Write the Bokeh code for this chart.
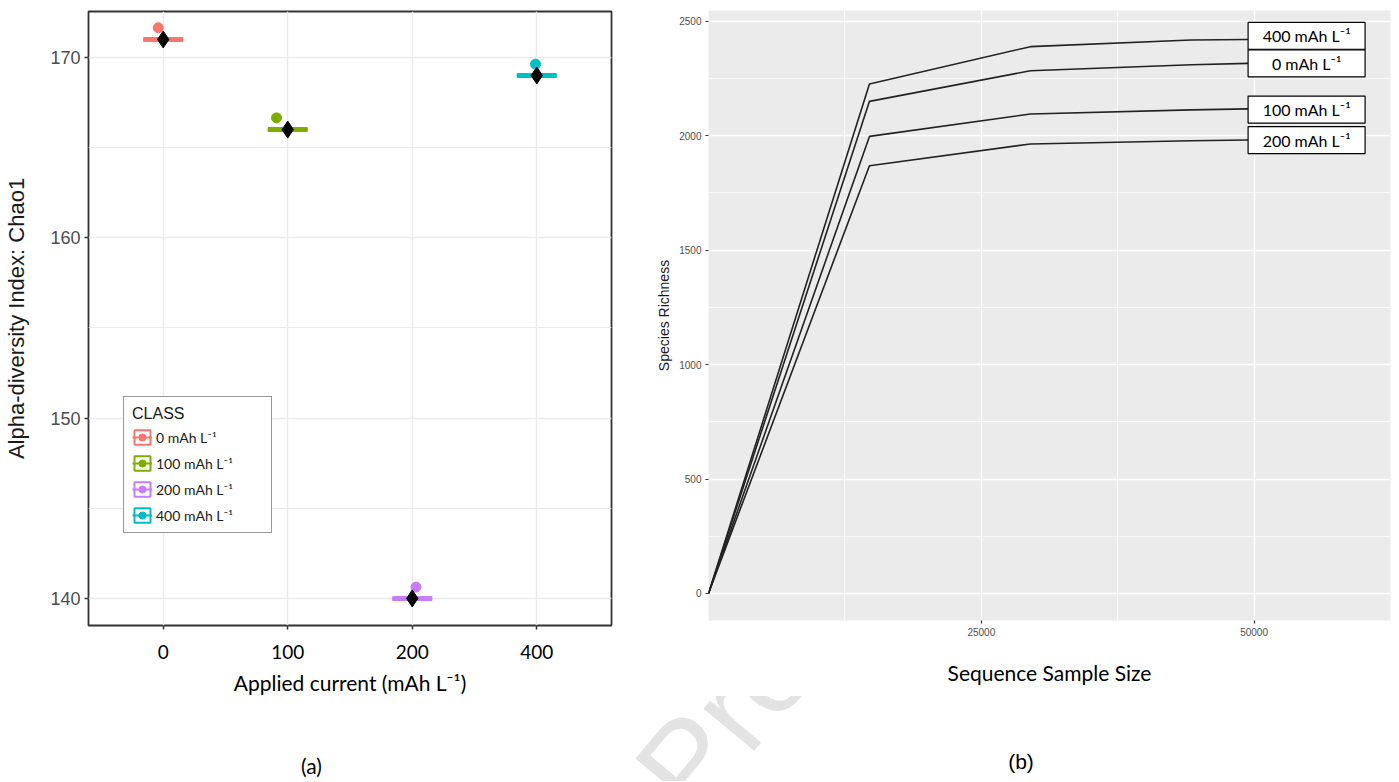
import math
from bokeh.plotting import figure
from bokeh.models import Range1d, FixedTicker, Legend, LegendItem, Label, ColumnDataSource, BasicTickFormatter, Div
from bokeh.layouts import row, column
from bokeh.core.properties import value
from bokeh.embed import file_html
from bokeh.resources import INLINE

# ---------------- data: panel (a) ----------------
classes = ["0", "100", "200", "400"]
class_labels = ["0 mAh L\u207b\u00b9", "100 mAh L\u207b\u00b9", "200 mAh L\u207b\u00b9", "400 mAh L\u207b\u00b9"]
class_colors = ["#F8766D", "#7CAE00", "#C77CFF", "#00BFC4"]
chao1_sample = [171.65, 166.65, 140.63, 169.63]
chao1_median = [171.0, 166.0, 140.0, 169.0]
chao1_mean = [171.0, 166.0, 140.0, 169.0]
jitter = [-0.04, -0.09, 0.03, -0.01]

# ---------------- data: panel (b) ----------------
depth = [0, 14750, 29500, 44250, 49450]
rich_400 = [0, 2226, 2389, 2418, 2420]
rich_0 = [0, 2150, 2284, 2310, 2316]
rich_100 = [0, 1997, 2095, 2113, 2117]
rich_200 = [0, 1869, 1964, 1978, 1981]
curve_labels = ["400 mAh L\u207b\u00b9", "0 mAh L\u207b\u00b9", "100 mAh L\u207b\u00b9", "200 mAh L\u207b\u00b9"]
label_y = [2436, 2316, 2114, 1981]
y_ticks_b = [0, 500, 1000, 1500, 2000, 2500]
x_ticks_b = [25000, 50000]

# ================= panel (a) =================
p1 = figure(width=615, height=708, output_backend="svg", toolbar_location=None,
            x_range=Range1d(-0.6, 3.6), y_range=Range1d(138.5, 172.55),
            min_border_left=88, min_border_right=4, min_border_top=11, min_border_bottom=83,
            background_fill_color="white", border_fill_color="white")
p1.outline_line_color = "#333333"
p1.outline_line_width = 1.8

xpos = list(range(len(classes)))
half_box = 0.16
items = []
for i, (lab, c) in enumerate(zip(class_labels, class_colors)):
    src = ColumnDataSource(dict(
        x0=[xpos[i] - half_box], x1=[xpos[i] + half_box],
        xj=[xpos[i] + jitter[i]], sample=[chao1_sample[i]], median=[chao1_median[i]],
    ))
    r_box = p1.quad(left="x0", right="x1", top="median", bottom="median",
                    fill_color="white", line_color=c, line_width=2, source=src)
    r_med_thin = p1.segment(x0="x0", y0="median", x1="x1", y1="median",
                            line_color=c, line_width=2, source=src)
    p1.segment(x0="x0", y0="median", x1="x1", y1="median",
               line_color=c, line_width=5, source=src)
    r_pt = p1.scatter(x="xj", y="sample", size=10, color=c, source=src)
    items.append(LegendItem(label=lab, renderers=[r_box, r_med_thin, r_pt]))

src_mean = ColumnDataSource(dict(x=xpos, mean=chao1_mean))
p1.scatter(x="x", y="mean", marker="diamond", size=17, color="black", source=src_mean)

legend = Legend(items=items, title="CLASS", location=(35, 92),
                title_text_font="Liberation Sans", title_text_font_size="16px",
                title_text_font_style="normal", title_text_color="#1a1a1a",
                label_text_font="Lato", label_text_font_size="14px",
                label_text_color="#1a1a1a",
                glyph_width=20, glyph_height=18, label_height=18, label_width=107,
                spacing=8, padding=8, margin=0, label_standoff=4, title_standoff=5,
                border_line_color="#333333", border_line_width=1.2,
                background_fill_color="white", background_fill_alpha=1.0)
p1.add_layout(legend)

p1.xaxis.ticker = FixedTicker(ticks=xpos)
p1.xaxis.major_label_overrides = {i: c for i, c in enumerate(classes)}
p1.yaxis.ticker = FixedTicker(ticks=[140, 150, 160, 170], minor_ticks=[145, 155, 165])
p1.xgrid.grid_line_color = "#ebebeb"
p1.xgrid.grid_line_width = 1.5
p1.ygrid.grid_line_color = "#ebebeb"
p1.ygrid.grid_line_width = 1.5
p1.ygrid.minor_grid_line_color = "#ebebeb"
p1.ygrid.minor_grid_line_width = 1.0

for ax in (p1.xaxis[0], p1.yaxis[0]):
    ax.axis_line_color = None
    ax.major_tick_line_color = "#333333"
    ax.major_tick_line_width = 1.5
    ax.major_tick_out = 4
    ax.major_tick_in = 0
    ax.minor_tick_out = 0
    ax.minor_tick_in = 0
    ax.axis_label_text_font_style = "normal"

p1.yaxis.major_label_text_font = "Liberation Sans"
p1.yaxis.major_label_text_font_size = "18px"
p1.yaxis.major_label_text_color = "#4d4d4d"
p1.yaxis.major_label_standoff = 4
p1.yaxis.axis_label = "Alpha-diversity Index: Chao1"
p1.yaxis.axis_label_text_font = "Liberation Sans"
p1.yaxis.axis_label_text_font_size = "22px"
p1.yaxis.axis_label_text_color = "#1a1a1a"
p1.yaxis.axis_label_standoff = 18

p1.xaxis.major_label_text_font = "Lato"
p1.xaxis.major_label_text_font_size = "19px"
p1.xaxis.major_label_text_color = "black"
p1.xaxis.major_label_standoff = 15
p1.xaxis.axis_label = "Applied current (mAh L\u207b\u00b9)"
p1.xaxis.axis_label_text_font = "Lato"
p1.xaxis.axis_label_text_font_size = "21px"
p1.xaxis.axis_label_text_color = "black"
p1.xaxis.axis_label_standoff = 8

# caption strip under (a); its frame lines up with p1's frame (page x 88..611)
cap_a = figure(width=615, height=73, output_backend="svg", toolbar_location=None,
               x_range=Range1d(88, 611), y_range=Range1d(781, 708),
               x_axis_type=None, y_axis_type=None, min_border=0,
               background_fill_color="white", border_fill_color="white")
cap_a.outline_line_color = None
cap_a.add_layout(Label(x=311, y=765, text="(a)", text_align="center", text_baseline="middle",
                       text_font="Lato", text_font_size="21px", text_color="black"))

# ================= panel (b) =================
x0b, x1b = 0, 62500
y0b, y1b = -118, 2547
frame_w_b = 682
p2 = figure(width=783, height=696, output_backend="svg", toolbar_location=None,
            x_range=Range1d(x0b, x1b), y_range=Range1d(y0b, y1b),
            min_border_left=93, min_border_right=8, min_border_top=10, min_border_bottom=76,
            background_fill_color="#EBEBEB", border_fill_color="white")
p2.outline_line_color = None

for ys in (rich_400, rich_0, rich_100, rich_200):
    p2.line(depth, ys, line_color="#222222", line_width=1.6)

box_w_px, box_h_px = 117, 27
box_cx = depth[-1] + (box_w_px / 2) * (x1b - x0b) / frame_w_b
p2.rect(x=[box_cx] * len(curve_labels), y=label_y, width=box_w_px, height=box_h_px,
        width_units="screen", height_units="screen", fill_color="white",
        line_color="black", line_width=1.2)
p2.text(x=[box_cx] * len(curve_labels), y=label_y, text=curve_labels,
        text_align="center", text_baseline="middle", text_font=value("Lato"),
        text_font_size="16px", text_color="black")

p2.xaxis.ticker = FixedTicker(ticks=x_ticks_b, minor_ticks=[12500, 37500, 62500])
p2.yaxis.ticker = FixedTicker(ticks=y_ticks_b, minor_ticks=[250, 750, 1250, 1750, 2250])
p2.xaxis.formatter = BasicTickFormatter(use_scientific=False)
p2.grid.grid_line_color = "white"
p2.grid.grid_line_width = 1.4
p2.grid.minor_grid_line_color = "white"
p2.grid.minor_grid_line_width = 0.7

for ax in (p2.xaxis[0], p2.yaxis[0]):
    ax.axis_line_color = None
    ax.major_tick_line_color = "#333333"
    ax.major_tick_line_width = 1.2
    ax.major_tick_out = 3
    ax.major_tick_in = 0
    ax.minor_tick_out = 0
    ax.minor_tick_in = 0
    ax.major_label_text_font = "Liberation Sans"
    ax.major_label_text_font_size = "10px"
    ax.major_label_text_color = "#4d4d4d"
    ax.major_label_standoff = 4
    ax.axis_label_text_font_style = "normal"

p2.yaxis.axis_label = "Species Richness"
p2.yaxis.axis_label_text_font = "Liberation Sans"
p2.yaxis.axis_label_text_font_size = "14px"
p2.yaxis.axis_label_text_color = "#1a1a1a"
p2.yaxis.axis_label_standoff = 4

p2.xaxis.axis_label = "Sequence Sample Size"
p2.xaxis.axis_label_text_font = "Lato"
p2.xaxis.axis_label_text_font_size = "21px"
p2.xaxis.axis_label_text_color = "black"
p2.xaxis.axis_label_standoff = 21

# caption strip under (b) with the faint watermark (local coords: page x-615, y-696)
wm_x, wm_y = 724 - 615, 719 - 696
cb_x, cb_y = 1021 - 615, 761 - 696
cap_b = Div(width=783, height=85, styles={"overflow": "hidden", "margin": "0", "padding": "0"},
            text=(
    '<svg xmlns="http://www.w3.org/2000/svg" width="783" height="85" style="display:block">'
    f'<text x="{wm_x}" y="{wm_y}" transform="rotate(-50 {wm_x} {wm_y})" '
    'font-family="Liberation Sans" font-size="125" fill="#e3e3e3" '
    'text-anchor="middle" dominant-baseline="central">Pre</text>'
    f'<text x="{cb_x}" y="{cb_y}" font-family="Lato" font-size="21" fill="black" '
    'text-anchor="middle" dominant-baseline="central">(b)</text>'
    '</svg>'))

layout = row(column(p1, cap_a), column(p2, cap_b))
open("out.html", "w").write(file_html(layout, INLINE, title="Chao1 and rarefaction"))
